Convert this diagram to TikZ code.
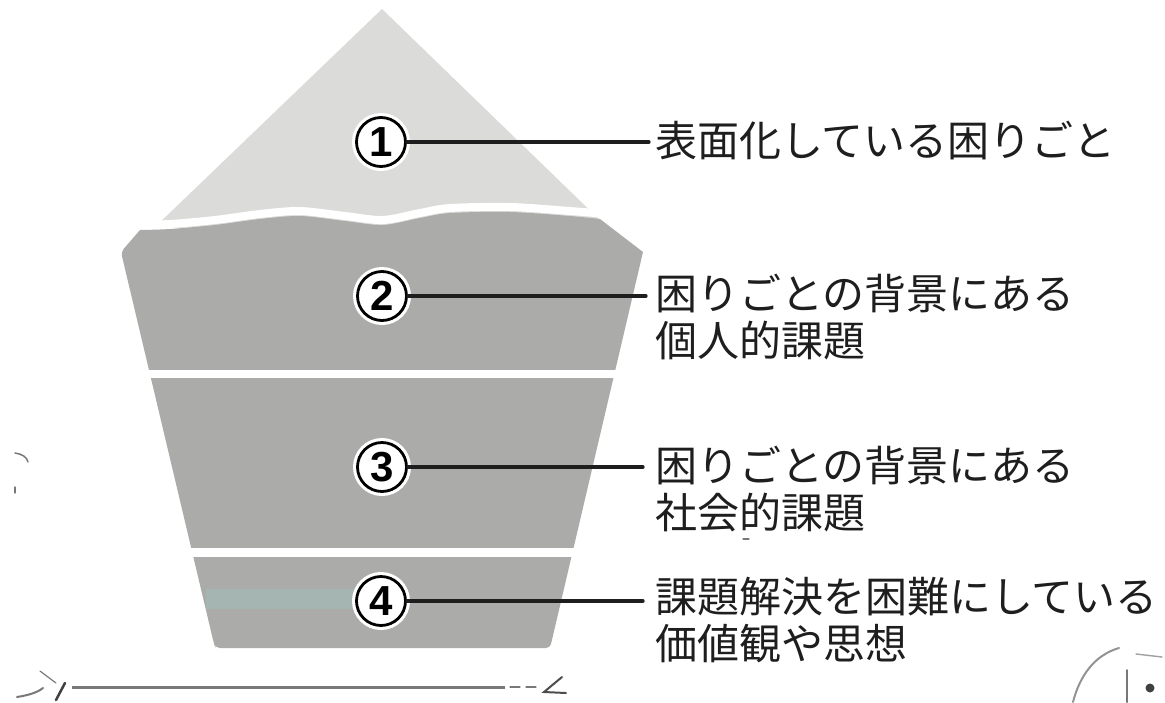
\documentclass[tikz,border=0pt]{standalone}
\usepackage{fontspec}
\newfontfamily\jpfont{Noto Sans CJK JP}
\newfontfamily\numfont{Liberation Sans}
\definecolor{tricol}{RGB}{219,219,217}
\definecolor{laycol}{RGB}{171,171,169}
\definecolor{tealtint}{RGB}{150,205,200}
\definecolor{inkcol}{RGB}{30,30,30}
\definecolor{speck}{RGB}{120,120,120}
\begin{document}
\begin{tikzpicture}[x=1pt,y=-1pt,
  numcirc/.style={circle, draw=black, line width=2.8pt, fill=white,
    minimum size=49pt, inner sep=0pt,
    preaction={draw=white, line width=9pt},
    font=\numfont\bfseries\fontsize{42}{42}\selectfont},
  leader/.style={draw=inkcol, line width=3.2pt, line cap=round},
  lbl/.style={anchor=west, inner sep=0pt, align=left, text=inkcol,
    font=\jpfont\fontsize{42}{47}\selectfont},
  gapline/.style={draw=white, line width=7.5pt},
  scrap/.style={draw=speck, line width=2pt, line cap=round}]
\useasboundingbox (0,0) rectangle (1165,702);
% top triangle
\fill[tricol] (382,9) -- (604,224) -- (154,228) -- cycle;
% lower trapezoid (layers 2-4)
\fill[laycol] (121,252) -- (140,230)
  -- plot[smooth] coordinates {(140,230) (170,229) (215,225) (260,219) (300,216) (345,221) (383,225) (420,218) (450,213) (510,212) (570,216) (600,219)}
  -- (643,252) -- (551,644) [rounded corners=4pt] -- (550,648) -- (216,648) -- (214,644) -- cycle;
% wavy white band
\draw[gapline, line width=8pt] plot[smooth] coordinates {(125,225) (170,224) (215,220) (260,214) (300,211) (345,216) (383,220) (420,213) (450,208) (510,207) (570,211) (632,216)};
% white gaps between layers
\draw[gapline] (100,374) -- (660,374);
\draw[gapline, line width=8.5pt] (150,552.5) -- (620,552.5);
% faint tint in layer 4
\fill[tealtint, opacity=0.3] (206,589) rectangle (365,609);
% circles
\node[numcirc] (c1) at (381,142) {1};
\node[numcirc] (c2) at (382,296) {2};
\node[numcirc] (c3) at (382,467) {3};
\node[numcirc] (c4) at (381,601) {4};
% labels
\node[lbl] (l1) at (655,141) {表面化している困りごと};
\node[lbl] (l2) at (655,317) {困りごとの背景にある\\個人的課題};
\node[lbl] (l3) at (655,489) {困りごとの背景にある\\社会的課題};
\node[lbl] (l4) at (655,620) {課題解決を困難にしている\\価値観や思想};
% leaders
\draw[leader] (c1.east) -- ([xshift=-6pt]c1.east -| l1.west);
\draw[leader] (c2.east) -- ([xshift=-9pt]c2.east -| l2.west);
\draw[leader] (c3.east) -- ([xshift=-12pt]c3.east -| l3.west);
\draw[leader] (c4.east) -- ([xshift=-12pt]c4.east -| l4.west);
% bottom line and scan marks
\coordinate (bl) at (72,687);
\coordinate (br) at (505,687);
\draw[draw=speck, line width=3pt] (bl) -- (br);
\draw[scrap] (17,697) .. controls (30,695) and (38,692) .. (43,688);
\draw[scrap, line width=1.2pt] (40,671) -- (56,683);
\draw[scrap, line width=2.5pt, draw=black!75] (65,683) -- (56,700);
\draw[scrap, line width=1.2pt] (510,687) -- (520,687) (526,687) -- (536,687);
\draw[scrap, draw=black!70] (562,677) -- (544,692) -- (566,693);
\draw[scrap, line width=1.5pt] (15,453) .. controls (22,454) and (27,457) .. (28,462);
\draw[scrap, line width=1.2pt] (15,487) -- (15,493);
\draw[scrap, line width=1.2pt] (743,539) -- (749,539);
% partial neighbour figure at bottom right
\draw[scrap, draw=speck!80] (1073,702) .. controls (1080,675) and (1095,655) .. (1119,648);
\draw[scrap, draw=speck!70, line width=1.4pt] (1136,654) -- (1162,657);
\draw[scrap, draw=speck] (1127,670) -- (1127,702);
\fill[black!75] (1150,688) circle (4.5pt);
\end{tikzpicture}
\end{document}
